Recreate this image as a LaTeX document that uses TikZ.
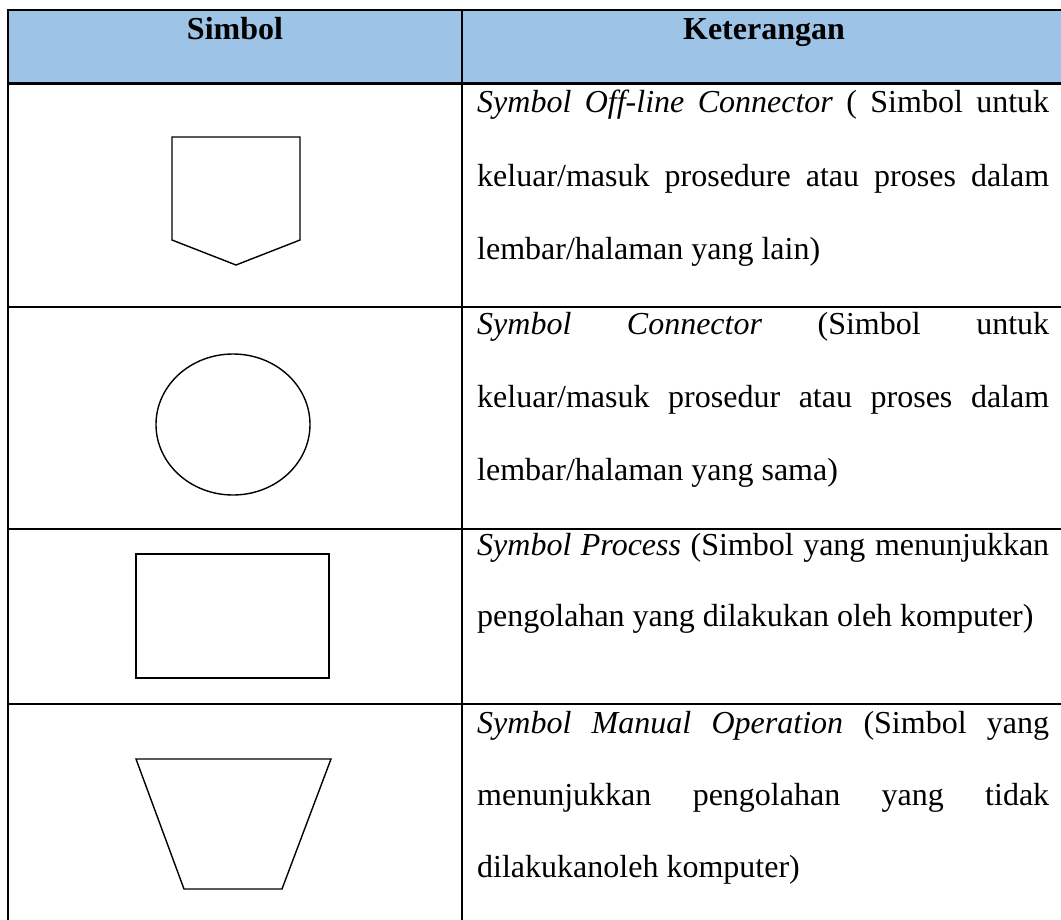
\documentclass[tikz,border=0pt]{standalone}
\usepackage{fontspec}
\setmainfont{Liberation Serif}
\definecolor{headblue}{HTML}{9DC3E6}
\begin{document}
\begin{tikzpicture}[x=1pt,y=-1pt,
  grid/.style={line width=2.2pt,black},
  shapeline/.style={line width=1.4pt,black,line join=miter},
  txt/.style={anchor=base west,inner sep=0pt,font=\fontsize{32}{38}\selectfont},
  headtxt/.style={anchor=base,inner sep=0pt,font=\fontsize{32}{38}\selectfont\bfseries}]
\useasboundingbox (0,0) rectangle (1061,919);
\clip (0,0) rectangle (1061,919);
% header
\fill[headblue] (8,10) rectangle (1075,83.5);
\node[headtxt] (h1) at (235,39) {Simbol};
\node[headtxt] (h2) at (764,39) {Keterangan};
% grid
\foreach \yy in {10,83.5,307,529,704}
  \draw[grid] (7,\yy) -- (1075,\yy);
\draw[grid] (8,9) -- (8,925);
\draw[grid] (462,9) -- (462,925);
% symbols
\draw[shapeline] (172,137) -- (300,137) -- (300,240) -- (236,265) -- (172,240) -- cycle;
\draw[shapeline] (233,424.5) ellipse [x radius=77, y radius=70.5];
\draw[shapeline] (136,554) rectangle (329,678);
\draw[shapeline] (136,759) -- (331,759) -- (282,889) -- (184,889) -- cycle;
% row 1
\node[txt] (r1a) at (477,112) {\makebox[572pt][s]{\textit{Symbol Off-line Connector} ( Simbol untuk}};
\node[txt] (r1b) at (477,186) {\makebox[572pt][s]{keluar/masuk prosedure atau proses dalam}};
\node[txt] (r1c) at (477,259) {lembar/halaman yang lain)};
% row 2
\node[txt] (r2a) at (477,334) {\makebox[572pt][s]{\textit{Symbol} \textit{Connector} (Simbol untuk}};
\node[txt] (r2b) at (477,407) {\makebox[572pt][s]{keluar/masuk prosedur atau proses dalam}};
\node[txt] (r2c) at (477,480) {lembar/halaman yang sama)};
% row 3
\node[txt] (r3a) at (477,555) {\makebox[572pt][s]{\textit{Symbol Process} (Simbol yang menunjukkan}};
\node[txt] (r3b) at (477,626) {pengolahan yang dilakukan oleh komputer)};
% row 4
\node[txt] (r4a) at (477,733) {\makebox[572pt][s]{\textit{Symbol Manual Operation} (Simbol yang}};
\node[txt] (r4b) at (477,805) {\makebox[572pt][s]{menunjukkan pengolahan yang tidak}};
\node[txt] (r4c) at (477,877) {dilakukanoleh komputer)};
\end{tikzpicture}
\end{document}
